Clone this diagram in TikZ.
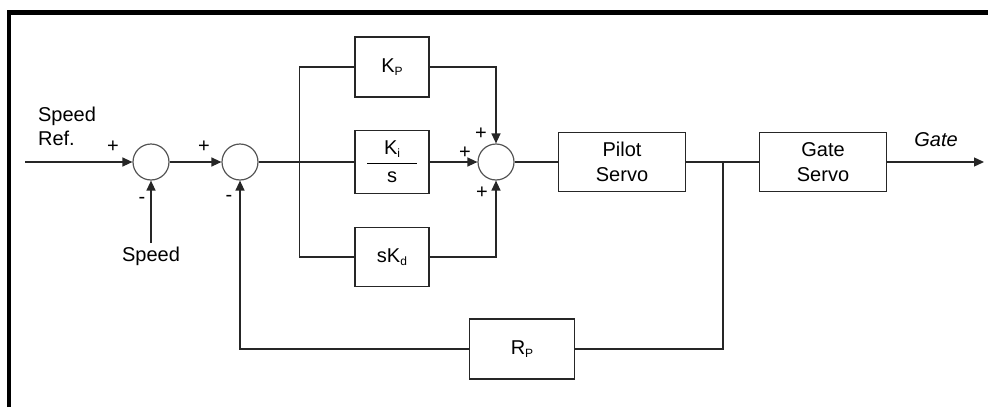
\documentclass[tikz,border=0pt]{standalone}
\usepackage{fontspec}
\setmainfont{Liberation Sans}
\usetikzlibrary{arrows.meta}
\definecolor{lineedge}{HTML}{262626}
\definecolor{sumedge}{HTML}{555555}
\newcommand{\lowidx}[1]{{\fontsize{12}{12}\selectfont\raisebox{-3pt}{#1}}}

\begin{document}
\begin{tikzpicture}[x=1pt, y=-1pt,
  blk/.style={rectangle, draw=lineedge, line width=1.3pt, minimum width=74pt,
              minimum height=60pt, align=center, inner sep=0pt,
              font=\fontsize{20}{25}\selectfont},
  servo/.style={blk, minimum width=127pt, minimum height=59pt},
  summer/.style={circle, draw=sumedge, line width=1.2pt, minimum size=36pt, inner sep=0pt},
  line/.style={draw=lineedge, line width=1.3pt},
  sig/.style={line, -{Triangle[length=10pt, width=9pt]}},
  lab/.style={font=\fontsize{20}{24}\selectfont, align=left, inner sep=0pt},
  sgn/.style={font=\fontsize{20}{20}\selectfont, inner sep=0pt},
]
\useasboundingbox (0,0) rectangle (988,407);
% frame, only top and left edge are in view
\draw[line width=4.5pt] (9,407) -- (9,12.5) -- (988,12.5);

\node[summer] (sum1) at (151,162) {};
\node[summer] (sum2) at (240,162) {};
\node[summer] (sum3) at (496,162) {};
\node[blk] (kp) at (392,67) {K\lowidx{P}};
\node[blk, minimum height=63pt] (ki) at (392,162)
  {$\displaystyle{\hbox to 50pt{\hfil K\lowidx{i}\hfil}\over\hbox{s}}$};
\node[blk, minimum height=59pt] (kd) at (392,257) {sK\lowidx{d}};
\node[servo] (pilot) at (622,162) {Pilot\\Servo};
\node[servo] (gate) at (823,162) {Gate\\Servo};
\node[blk, minimum width=105pt] (rp) at (522,349) {R\lowidx{P}};

\node[lab] (ref) at (67,126) {Speed\\Ref.};
\node[lab] (speed) at (151,256) {Speed};
\node[lab, font=\fontsize{20}{24}\selectfont\itshape] (gatelab) at (936,140) {Gate};

\coordinate (inref) at (25,162);
\coordinate (spin) at (151,243);
\coordinate (tap) at (723,162);
\coordinate (out) at (984,162);

\draw[sig] (inref) -- (sum1.west);
\draw[sig] (spin) -- (sum1.south);
\draw[sig] (sum1.east) -- (sum2.west);
\draw[line] (sum2.east) -- (ki.west);
\draw[line] (kp.west) -- ++(-55,0) |- (kd.west);
\draw[sig] (kp.east) -| (sum3.north);
\draw[sig] (ki.east) -- (sum3.west);
\draw[sig] (kd.east) -| (sum3.south);
\draw[line] (sum3.east) -- (pilot.west);
\draw[line] (pilot.east) -- (gate.west);
\draw[sig] (gate.east) -- (out);
% feedback through R_P
\draw[line] (tap) |- (rp.east);
\draw[sig] (rp.west) -| (sum2.south);

\node[sgn] (p1) at (113,147) {+};
\node[sgn] (m1) at (142,200) {-};
\node[sgn] (p2) at (204,147) {+};
\node[sgn] (m2) at (229,198) {-};
\node[sgn] (p3) at (481,134) {+};
\node[sgn] (p4) at (465,153) {+};
\node[sgn] (p5) at (482,193) {+};
\end{tikzpicture}
\end{document}
